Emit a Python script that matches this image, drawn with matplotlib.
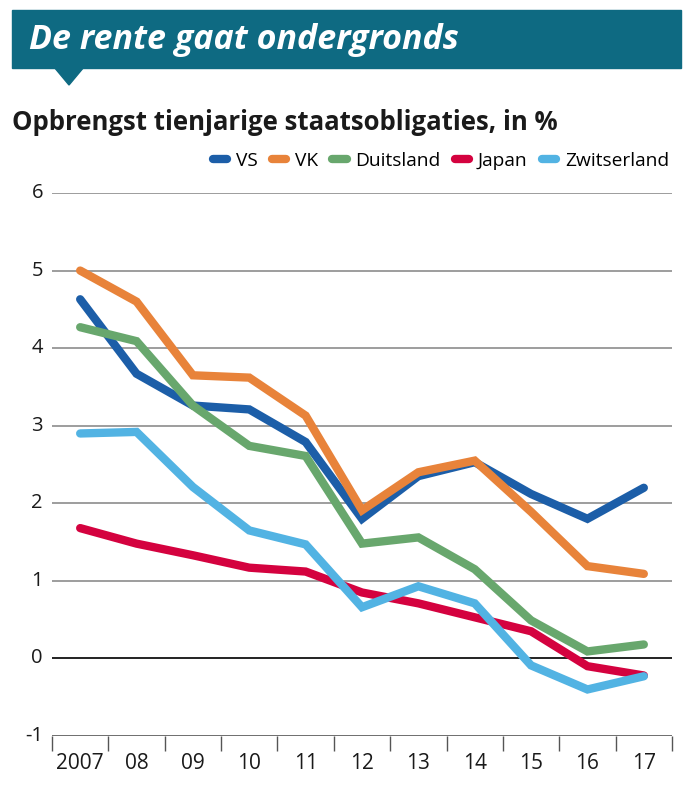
import matplotlib
matplotlib.use('Agg')
import matplotlib.pyplot as plt
from matplotlib.patches import Rectangle, Polygon
from matplotlib.lines import Line2D

plt.rcParams['font.family'] = ['Open Sans', 'DejaVu Sans']

years = ['2007', '08', '09', '10', '11', '12', '13', '14', '15', '16', '17']
vs = [4.63, 3.67, 3.26, 3.21, 2.79, 1.80, 2.35, 2.53, 2.12, 1.80, 2.20]
vk = [5.00, 4.60, 3.65, 3.62, 3.13, 1.91, 2.40, 2.55, 1.89, 1.19, 1.09]
duitsland = [4.27, 4.09, 3.26, 2.74, 2.61, 1.48, 1.56, 1.15, 0.49, 0.09, 0.18]
japan = [1.68, 1.48, 1.33, 1.17, 1.12, 0.85, 0.71, 0.53, 0.35, -0.10, -0.22]
zwitserland = [2.90, 2.92, 2.21, 1.65, 1.47, 0.66, 0.93, 0.71, -0.09, -0.40, -0.23]

series = [('VS', vs, '#1c5ea8'), ('VK', vk, '#e8833a'),
          ('Duitsland', duitsland, '#68a76d'), ('Japan', japan, '#d4023f'),
          ('Zwitserland', zwitserland, '#52b3e3')]

W, H = 693, 799
fig = plt.figure(figsize=(W / 100, H / 100), dpi=100)

# banner
fig.patches.append(Rectangle((12 / W, 1 - 68 / H), 669 / W, 58 / H,
                             transform=fig.transFigure, color='#0e6a82', zorder=0))
fig.patches.append(Polygon([(54 / W, 1 - 67 / H), (84 / W, 1 - 67 / H), (69 / W, 1 - 85 / H)],
                           closed=True, transform=fig.transFigure, color='#0e6a82', zorder=0))
fig.text(29 / W, 1 - 40 / H, 'De rente gaat ondergronds', color='white', fontsize=24.5,
         fontweight='bold', fontstyle='italic', va='center', ha='left')

fig.text(12 / W, 1 - 122 / H, 'Opbrengst tienjarige staatsobligaties, in %', fontsize=18.5,
         fontweight='bold', color='#1a1a1a', va='center', ha='left')

ax = fig.add_axes([52 / W, 1 - 736 / H, 620 / W, 543 / H])
x = list(range(len(years)))
for name, vals, col in series:
    ax.plot(x, vals, color=col, lw=6, solid_capstyle='round', solid_joinstyle='miter',
            label=name, zorder=3)

ax.set_xlim(-0.5, len(years) - 0.5)
ax.set_ylim(-1, 6)
for v in range(-1, 7):
    if v == 0:
        ax.axhline(v, color='#222222', lw=1.4, zorder=2)
    elif v == -1:
        ax.axhline(v, color='#555555', lw=1.2, zorder=2)
    else:
        ax.axhline(v, color='#8c8c8c', lw=1.2, zorder=1)
    ax.text(-0.66, v, str(v), ha='right', va='center', fontsize=14.5, color='#1a1a1a')

for s in ax.spines.values():
    s.set_visible(False)
ax.set_yticks([])
ax.set_xticks([i - 0.5 for i in range(len(years) + 1)])
ax.set_xticklabels([])
ax.tick_params(axis='x', direction='out', length=11, width=1, color='#555555')
for i, lab in enumerate(years):
    ax.text(i, -1.36, lab, ha='center', va='center', fontsize=15, color='#1a1a1a')

handles = [Line2D([0], [0], color=c, lw=6, solid_capstyle='round') for _, _, c in series]
fig.legend(handles, [n for n, _, _ in series], loc='center right',
           bbox_to_anchor=(669 / W, 1 - 161 / H), ncol=5, frameon=False,
           borderpad=0, borderaxespad=0,
           handlelength=0.75, handletextpad=0.45, columnspacing=0.75, fontsize=13.8)

fig.savefig('out.png', dpi=100)
